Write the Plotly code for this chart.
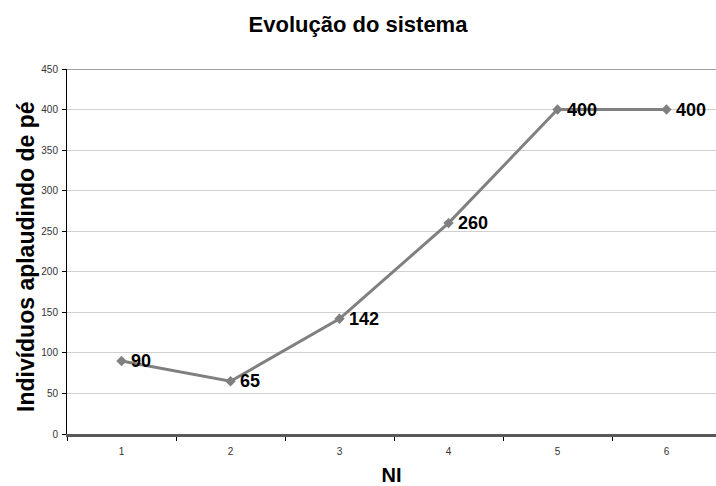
import plotly.graph_objects as go

# Data: evolution of the system per NI level
ni_levels = [1, 2, 3, 4, 5, 6]
individuos = [90, 65, 142, 260, 400, 400]
tick_labels = ["1", "2", "3", "4", "5", "6"]
y_ticks = [0, 50, 100, 150, 200, 250, 300, 350, 400, 450]

FONT = "Liberation Sans, Arial, sans-serif"

fig = go.Figure()
fig.add_trace(go.Scatter(
    x=ni_levels,
    y=individuos,
    mode="lines+markers",
    line=dict(color="#808080", width=3),
    marker=dict(symbol="diamond", size=8, color="#808080"),
    cliponaxis=False,
    showlegend=False,
))

# value labels to the right of each point
for xv, yv in zip(ni_levels, individuos):
    fig.add_annotation(
        x=xv, y=yv, text=f"<b>{yv}</b>", showarrow=False,
        xanchor="left", yanchor="middle", xshift=7, yshift=0,
        font=dict(family=FONT, size=18, color="#000000"),
    )

# vertical value-axis title
fig.add_annotation(
    text="<b>Indivíduos aplaudindo de pé</b>", textangle=-90,
    xref="paper", yref="paper", x=-41 / 649, y=(434 - 257) / 365,
    xanchor="center", yanchor="middle", showarrow=False,
    font=dict(family=FONT, size=23, color="#000000"),
)

fig.update_layout(
    width=716,
    height=486,
    margin=dict(l=67, r=0, t=69, b=52),
    paper_bgcolor="white",
    plot_bgcolor="white",
    font=dict(family=FONT),
    title=dict(
        text="<b>Evolução do sistema</b>",
        x=0.5, xref="container", xanchor="center",
        y=1 - 24 / 486, yref="container", yanchor="middle",
        font=dict(family=FONT, size=22, color="#000000"),
    ),
)

fig.update_xaxes(
    range=[0.5, 6.5 - 5 / 109],
    tickvals=ni_levels,
    ticktext=tick_labels,
    ticks="",
    ticklabelstandoff=6,
    tickfont=dict(family=FONT, size=10, color="#333333"),
    showgrid=False,
    zeroline=False,
    showline=True,
    linecolor="#595959",
    linewidth=3,
    minor=dict(
        tickvals=[0.5, 1.5, 2.5, 3.5, 4.5, 5.5, 6.5],
        ticks="outside",
        ticklen=4,
        tickcolor="#000000",
        tickwidth=1,
        showgrid=False,
    ),
    title=dict(text="<b>NI</b>", font=dict(family=FONT, size=20, color="#000000"), standoff=15),
    fixedrange=True,
)

fig.update_yaxes(
    range=[0, 450],
    tickvals=y_ticks,
    ticks="outside",
    ticklen=4,
    ticklabelstandoff=2,
    tickcolor="#000000",
    tickfont=dict(family=FONT, size=10, color="#333333"),
    showgrid=True,
    gridcolor="#d0d0d0",
    gridwidth=1,
    zeroline=False,
    showline=True,
    linecolor="#000000",
    linewidth=1,
    fixedrange=True,
)

# darker top border line at the maximum of the value axis
fig.add_shape(type="line", xref="paper", yref="y", x0=0, x1=1, y0=450, y1=450,
              line=dict(color="#a0a0a0", width=2))

fig.write_html("out.html")
